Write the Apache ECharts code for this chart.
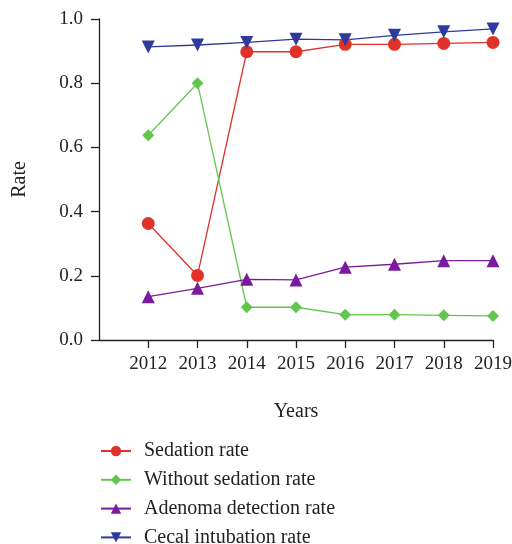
<!DOCTYPE html>
<html>
<head>
<meta charset="utf-8">
<script src="https://cdn.jsdelivr.net/npm/echarts@6/dist/echarts.min.js"></script>
<style>
html,body{margin:0;padding:0;background:#fff;}
#chart{width:512px;height:544px;}
</style>
</head>
<body>
<div id="chart"></div>
<script>
const years = [2012, 2013, 2014, 2015, 2016, 2017, 2018, 2019];
const sedationRate = [0.363, 0.201, 0.898, 0.898, 0.921, 0.921, 0.924, 0.927];
const withoutSedationRate = [0.638, 0.800, 0.102, 0.102, 0.079, 0.079, 0.077, 0.075];
const adenomaDetectionRate = [0.135, 0.161, 0.189, 0.187, 0.227, 0.236, 0.247, 0.247];
const cecalIntubationRate = [0.913, 0.919, 0.927, 0.937, 0.935, 0.949, 0.960, 0.969];
const yTicks = [0, 0.2, 0.4, 0.6, 0.8, 1.0];

const FONT = 'Liberation Serif';
function pairs(vals){ return years.map((y,i)=>[y, vals[i]]); }

const chart = echarts.init(document.getElementById('chart'), null, {renderer:'canvas'});

function mkSeries(name, vals, color, symbol, size){
  return {
    name: name, type: 'line', data: pairs(vals),
    symbol: symbol, symbolSize: size,
    itemStyle: {color: color},
    lineStyle: {color: color, width: 1.3},
    emphasis: {disabled: true},
    animation: false
  };
}

chart.setOption({
  backgroundColor: '#fff',
  animation: false,
  textStyle: {fontFamily: FONT},
  grid: {left: 99, right: 19, top: 19, bottom: 204, containLabel: false, outerBoundsMode: 'none'},
  xAxis: {
    type: 'value', min: 2011, max: 2019, interval: 1,
    name: 'Years', nameLocation: 'middle', nameGap: 62,
    nameTextStyle: {fontFamily: FONT, fontSize: 20, color: '#222'},
    splitLine: {show: false},
    axisLine: {show: true, lineStyle: {color: '#222', width: 1.3}},
    axisTick: {show: true, length: 8, inside: false, lineStyle: {color: '#222', width: 1.3}, customValues: years},
    axisLabel: {fontFamily: FONT, fontSize: 19, color: '#222', margin: 15, customValues: years,
      formatter: v => String(v)}
  },
  yAxis: {
    type: 'value', min: 0, max: 1, interval: 0.2,
    name: 'Rate', nameLocation: 'middle', nameGap: 69, nameRotate: 90,
    nameTextStyle: {fontFamily: FONT, fontSize: 20, color: '#222'},
    splitLine: {show: false},
    axisLine: {show: true, lineStyle: {color: '#222', width: 1.3}},
    axisTick: {show: true, length: 8, lineStyle: {color: '#222', width: 1.3}},
    axisLabel: {fontFamily: FONT, fontSize: 19, color: '#222', margin: 16,
      formatter: v => v.toFixed(1)}
  },
  legend: {
    orient: 'vertical', left: 100, top: 441, height: 130, padding: 0,
    itemWidth: 30, itemHeight: 13, itemGap: 8.8,
    textStyle: {fontFamily: FONT, fontSize: 20, lineHeight: 20, color: '#222', padding: [0,0,0,8]},
    data: ['Sedation rate', 'Without sedation rate', 'Adenoma detection rate', 'Cecal intubation rate']
  },
  series: [
    mkSeries('Sedation rate', sedationRate, '#e0322b', 'circle', 13),
    mkSeries('Without sedation rate', withoutSedationRate, '#62c64e', 'diamond', 12),
    mkSeries('Adenoma detection rate', adenomaDetectionRate, '#7a1a9c', 'triangle', 13),
    mkSeries('Cecal intubation rate', cecalIntubationRate, '#2f3a9f', 'path://M0,0 L10,0 L5,9 Z', 13)
  ]
});
</script>
</body>
</html>
